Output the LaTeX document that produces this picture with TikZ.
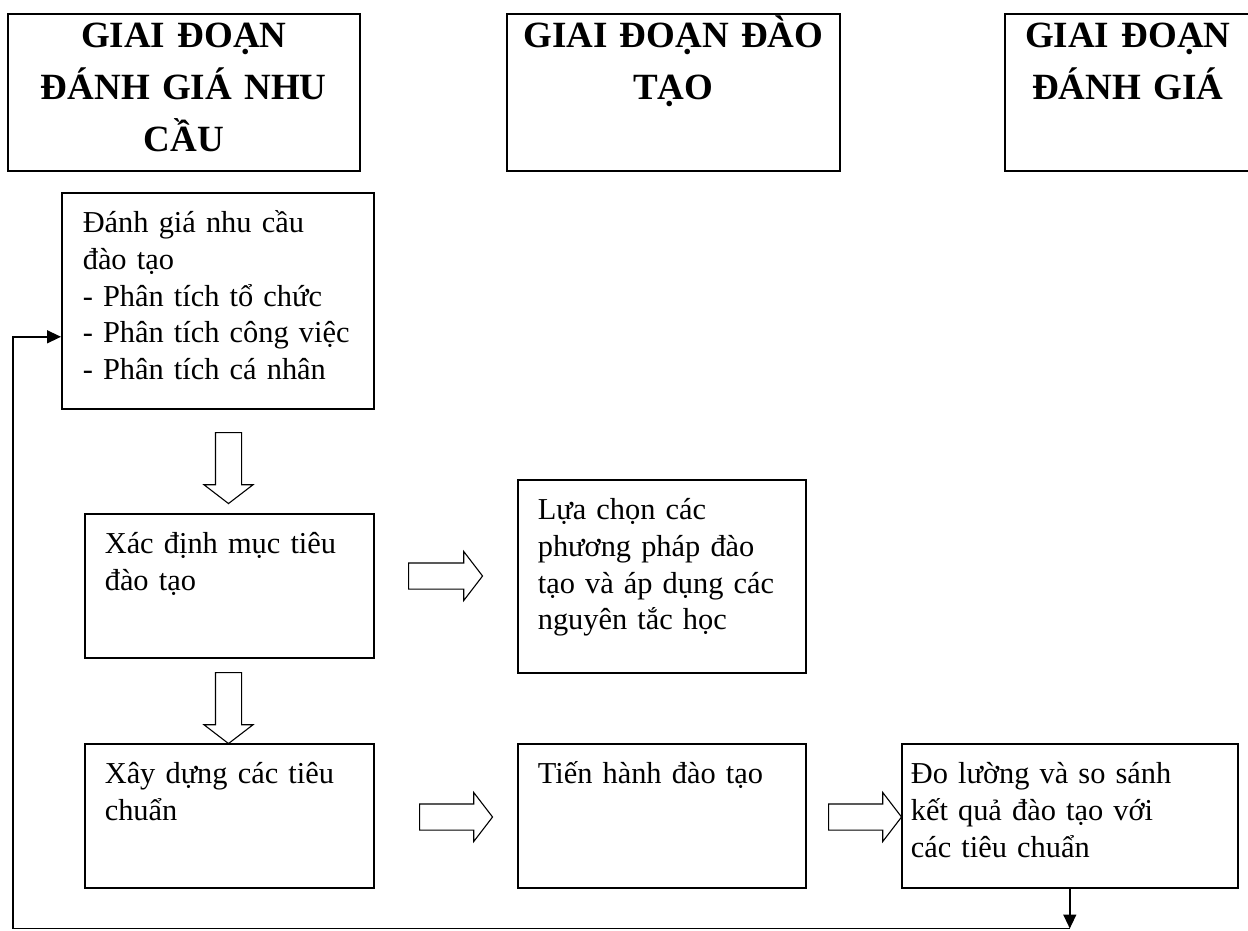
\documentclass[tikz,border=0pt]{standalone}
\usepackage{fontspec}
\setmainfont{Liberation Serif}
\usetikzlibrary{arrows.meta,shapes.arrows}
\newcommand{\bodyfont}{\fontsize{30.4}{36.7}\selectfont}
\newcommand{\headfont}{\fontsize{37}{52}\selectfont\bfseries}

\begin{document}
\begin{tikzpicture}[x=1pt,y=-1pt,>={Triangle[length=14pt,width=13pt]},
  stage/.style={draw,line width=1.6pt,anchor=north west,inner xsep=5pt,inner ysep=0pt,
    text height=34pt,text depth=123pt,align=center,font=\headfont},
  box/.style={draw,line width=1.6pt,anchor=north west,inner xsep=20pt,inner ysep=0pt,
    text height=40pt,align=left,font=\bodyfont},
  hollow/.style={single arrow,draw,line width=1.1pt,inner xsep=0pt,inner ysep=12.5pt,
    minimum width=0pt,single arrow head extend=11.5pt,single arrow tip angle=105,anchor=tail},
  fbline/.style={line width=1.4pt}]
  \useasboundingbox (0,0) rectangle (1248,930);

  \node[stage,text width=342pt] (g1) at (7,13) {GIAI ĐOẠN\\ĐÁNH GIÁ NHU\\CẦU};
  \node[stage,text width=323pt] (g2) at (506,13) {GIAI ĐOẠN ĐÀO\\TẠO};
  \node[stage,text width=236pt] (g3) at (1004,13) {GIAI ĐOẠN\\ĐÁNH GIÁ};

  \node[box,inner xsep=21pt,text width=270pt,text depth=176pt] (A) at (61,192)
    {Đánh giá nhu cầu\\đào tạo\\- Phân tích tổ chức\\- Phân tích công việc\\- Phân tích cá nhân};
  \node[box,text width=249pt,text depth=104pt] (B) at (84,513) {Xác định mục tiêu\\đào tạo};
  \node[box,text width=248pt,text depth=153pt] (C) at (517,479)
    {Lựa chọn các\\phương pháp đào\\tạo và áp dụng các\\nguyên tắc học};
  \node[box,text width=249pt,text depth=104pt] (D) at (84,743) {Xây dựng các tiêu\\chuẩn};
  \node[box,text width=248pt,text depth=104pt] (E) at (517,743) {Tiến hành đào tạo};
  \node[box,inner xsep=9pt,text width=318pt,text depth=104pt] (F) at (901,743)
    {Đo lường và so sánh\\kết quả đào tạo với\\các tiêu chuẩn};

  \node[hollow,rotate=-90,minimum height=71pt] (ab) at (228.5,432) {};
  \node[hollow,minimum height=74pt] (bc) at (408,576) {};
  \node[hollow,rotate=-90,minimum height=71pt] (bd) at (228.5,672) {};
  \node[hollow,minimum height=73pt] (de) at (419,817) {};
  \node[hollow,minimum height=73pt] (ef) at (828,817) {};

  \coordinate (lp) at (13,928.5);
  \coordinate (fb) at (F.south |- lp);
  \draw[fbline,->] (F.south) -- (fb);
  \draw[fbline,->] (fb) -- (lp) |- ([yshift=-36pt]A.west);
\end{tikzpicture}
\end{document}
